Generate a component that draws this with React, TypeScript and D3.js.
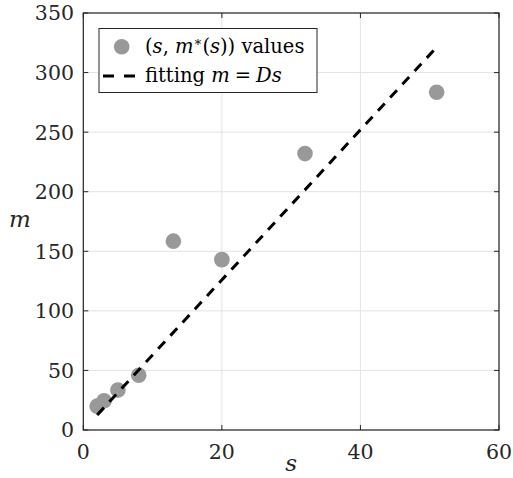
import React from "react";
import * as d3 from "d3";

const sValues = [2, 3, 5, 8, 13, 20, 32, 51];
const mValues = [20, 24.5, 33.5, 46, 158.5, 143, 232, 283.5];
const fitD = 6.3;
const fitRange = [2, 51];
const xTicks = [0, 20, 40, 60];
const yTicks = [0, 50, 100, 150, 200, 250, 300, 350];

const W = 513;
const H = 478;
const FONT = "'DejaVu Serif', serif";

export default function App() {
  const x = d3.scaleLinear().domain([0, 60]).range([83.3, 499]);
  const y = d3.scaleLinear().domain([0, 350]).range([430, 13]);
  const [x0, x1] = x.range();
  const [yb, yt] = y.range();
  const axisColor = "#262626";
  const fitLine = d3.line<number>().x((s) => x(s)).y((s) => y(fitD * s));
  const pts = sValues.map((s, i) => ({ s, m: mValues[i] }));
  const tickLen = 5;
  const tf = { fontFamily: FONT };

  return (
    <svg width={W} height={H} style={{ position: "absolute", left: 0, top: 0, background: "#fff", fontFamily: FONT }}>
      <rect x={0} y={0} width={W} height={H} fill="#fff" />
      {xTicks.map((t) => (
        <line key={"gx" + t} x1={x(t)} x2={x(t)} y1={yt} y2={yb} stroke="#e3e3e3" strokeWidth={1} />
      ))}
      {yTicks.map((t) => (
        <line key={"gy" + t} x1={x0} x2={x1} y1={y(t)} y2={y(t)} stroke="#e3e3e3" strokeWidth={1} />
      ))}
      {xTicks.map((t) => (
        <g key={"tx" + t}>
          <line x1={x(t)} x2={x(t)} y1={yb} y2={yb - tickLen} stroke={axisColor} />
          <line x1={x(t)} x2={x(t)} y1={yt} y2={yt + tickLen} stroke={axisColor} />
          <text x={x(t)} y={459} textAnchor="middle" fontSize={20.5} fill="#262626" style={tf}>{t}</text>
        </g>
      ))}
      {yTicks.map((t) => (
        <g key={"ty" + t}>
          <line x1={x0} x2={x0 + tickLen} y1={y(t)} y2={y(t)} stroke={axisColor} />
          <line x1={x1} x2={x1 - tickLen} y1={y(t)} y2={y(t)} stroke={axisColor} />
          <text x={74} y={y(t)} dy="0.36em" textAnchor="end" fontSize={20.5} fill="#262626" style={tf}>{t}</text>
        </g>
      ))}
      {pts.map((p, i) => (
        <circle key={i} cx={x(p.s)} cy={y(p.m)} r={7.8} fill="#999999" />
      ))}
      <path d={fitLine(fitRange) || ""} stroke="#000" strokeWidth={3} strokeDasharray="10 8" fill="none" />
      <rect x={x0} y={yt} width={x1 - x0} height={yb - yt} fill="none" stroke={axisColor} strokeWidth={1.2} />
      <text x={(x0 + x1) / 2} y={471} textAnchor="middle" fontSize={23} fontStyle="italic" fill="#262626" style={tf}>s</text>
      <text x={20} y={227} textAnchor="middle" fontSize={23} fontStyle="italic" fill="#262626" style={tf}>m</text>
      <rect x={99} y={28.5} width={218} height={64} fill="#fff" stroke={axisColor} strokeWidth={1} />
      <circle cx={121.7} cy={46.7} r={7.8} fill="#999999" />
      <text x={145} y={53} fontSize={19.5} fill="#000" style={tf}>
        <tspan>(</tspan>
        <tspan fontStyle="italic">s</tspan>
        <tspan>, </tspan>
        <tspan fontStyle="italic">m</tspan>
        <tspan fontSize={13} dy={-7}>∗</tspan>
        <tspan dy={7}>(</tspan>
        <tspan fontStyle="italic">s</tspan>
        <tspan>))  values</tspan>
      </text>
      <line x1={103} x2={135} y1={76} y2={76} stroke="#000" strokeWidth={3} strokeDasharray="11 10" />
      <text x={145} y={82} fontSize={19.5} fill="#000" style={tf} xmlSpace="preserve">
        <tspan>fitting </tspan>
        <tspan fontStyle="italic">m</tspan>
        <tspan dx={5}>=</tspan>
        <tspan dx={5} fontStyle="italic">Ds</tspan>
      </text>
    </svg>
  );
}
